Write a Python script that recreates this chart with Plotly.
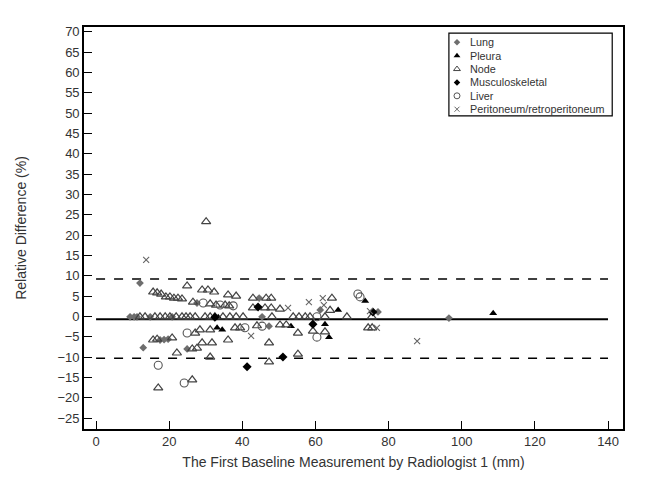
import plotly.graph_objects as go

# ---- data (x = first baseline measurement, mm; y = relative difference, %) ----
lung_x = [12.0, 9.3, 10.4, 11.2, 12.9, 17.5, 18.6, 19.7, 24.9, 27.6, 44.6, 47.3, 61.3, 77.1, 96.5, 14.8, 20.8, 45.4]
lung_y = [8.2, -0.1, -0.1, -0.1, -7.7, -5.8, -5.7, -5.6, -8.0, 3.3, 4.5, -2.4, 1.6, 1.1, -0.4, -0.1, -0.1, -0.1]

pleura_x = [33.1, 34.5, 53.3, 62.6, 63.7, 66.2, 73.6, 108.6, 33.4]
pleura_y = [-2.8, -3.3, -2.4, -1.9, -5.1, 1.6, 3.8, 0.8, -0.2]

node_x = [30.1, 24.9, 15.6, 16.7, 17.8, 19.1, 20.2, 21.3, 22.4, 23.5,
          29.0, 30.6, 32.3, 36.1, 38.3, 26.5, 31.2, 32.8, 35.3, 36.4,
          42.9, 46.5, 47.9, 42.9, 46.2, 47.9, 50.3, 64.5, 64.0,
          12.0, 13.4, 16.1, 17.5, 18.9, 20.2, 21.9, 23.5, 24.6, 25.7, 27.1,
          29.8, 31.2, 32.5, 34.7, 36.6, 38.3, 40.2, 48.1, 53.9, 55.5, 57.2,
          58.5, 62.6, 68.6, 75.4,
          27.1, 28.4, 31.2, 15.6, 16.7, 20.8, 26.3, 27.6, 29.0, 31.7,
          22.1, 31.2, 17.0, 26.3, 38.0, 39.4, 44.0, 50.3, 52.0, 36.1,
          47.3, 55.2, 59.3, 62.6, 47.3, 55.2, 74.4, 75.5]
node_y = [23.3, 7.5, 6.0, 5.8, 5.5, 4.8, 4.8, 4.5, 4.5, 4.3,
          6.5, 6.5, 6.0, 5.3, 5.0, 3.5, 3.1, 2.8, 2.8, 2.6,
          4.5, 4.5, 4.5, 2.1, 2.1, 2.1, 1.8, 4.5, 1.5,
          -0.1, -0.1, -0.1, -0.1, -0.1, -0.1, -0.1, -0.1, -0.1, -0.1, -0.1,
          -0.1, -0.1, -0.1, -0.1, -0.1, -0.1, -0.1, -0.1, -0.1, -0.1, -0.1,
          -0.1, -0.1, -0.1, -0.1,
          -4.1, -3.3, -3.3, -5.8, -5.6, -5.3, -8.0, -7.8, -6.5, -6.5,
          -9.0, -10.0, -17.6, -15.6, -2.8, -2.8, -2.3, -2.1, -2.1, -5.8,
          -6.5, -4.1, -3.6, -3.8, -11.2, -9.3, -2.8, -2.8]

musc_x = [44.3, 32.5, 59.3, 75.7, 51.1, 41.3]
musc_y = [2.3, -0.2, -1.9, 1.1, -10.0, -12.4]

liver_x = [29.3, 37.5, 40.7, 45.4, 24.9, 17.0, 24.1, 60.4, 71.6, 72.2, 60.4, 33.9]
liver_y = [3.3, 2.6, -2.8, -2.4, -4.1, -12.0, -16.4, -5.1, 5.5, 4.8, -0.1, 2.8]

perit_x = [13.7, 52.5, 58.2, 62.3, 62.0, 42.4, 74.9, 76.8, 87.8]
perit_y = [13.9, 2.1, 3.5, 2.8, 4.5, -4.8, 1.3, -2.8, -6.1]

mean_diff = -0.7
upper_loa = 9.2
lower_loa = -10.3
line_x0, line_x1 = 0, 140

x_ticks = [0, 20, 40, 60, 80, 100, 120, 140]
y_ticks = list(range(-25, 75, 5))

legend_names = ["Lung", "Pleura", "Node", "Musculoskeletal", "Liver", "Peritoneum/retroperitoneum"]

font_family = "Liberation Sans, Arial, sans-serif"
txt_color = "#333333"

styles = [
    dict(symbol="diamond", size=6, color="#6e6e6e"),
    dict(symbol="triangle-up", size=7, color="black"),
    dict(symbol="triangle-up-open", size=8, color="#444444", line=dict(width=1.2, color="#444444")),
    dict(symbol="diamond", size=7, color="black"),
    dict(symbol="circle-open", size=8, color="#555555", line=dict(width=1.1, color="#555555")),
    dict(symbol="x-thin-open", size=6, color="#666666", line=dict(width=1.1, color="#666666")),
]
legend_styles = [
    dict(symbol="diamond", size=5, color="#6e6e6e"),
    dict(symbol="triangle-up", size=6, color="black"),
    dict(symbol="triangle-up-open", size=6, color="#444444", line=dict(width=1, color="#444444")),
    dict(symbol="diamond", size=5, color="black"),
    dict(symbol="circle-open", size=6, color="#555555", line=dict(width=1, color="#555555")),
    dict(symbol="x-thin-open", size=5, color="#666666", line=dict(width=1, color="#666666")),
]

fig = go.Figure()

data_x = [lung_x, pleura_x, node_x, musc_x, liver_x, perit_x]
data_y = [lung_y, pleura_y, node_y, musc_y, liver_y, perit_y]
for name, xs, ys, mk in zip(legend_names, data_x, data_y, styles):
    fig.add_trace(go.Scatter(x=xs, y=ys, mode="markers", name=name, marker=mk,
                             showlegend=False))

# reference lines
fig.add_shape(type="line", xref="x", yref="y", x0=line_x0, x1=line_x1, y0=mean_diff, y1=mean_diff,
              line=dict(color="black", width=1.8), layer="below")
for v in (upper_loa, lower_loa):
    fig.add_shape(type="line", xref="x", yref="y", x0=line_x0, x1=line_x1, y0=v, y1=v,
                  line=dict(color="black", width=1.3, dash="dash"), layer="below")

# ---- custom compact legend (overlay axes in 0..1 plot-area units) ----
leg_x0, leg_x1, leg_top, leg_bot = 0.677, 0.980, 0.985, 0.779
row_step = 0.0333
row0 = 0.962
sym_x, text_x = 0.692, 0.712
fig.add_shape(type="rect", xref="paper", yref="paper", x0=leg_x0, x1=leg_x1, y0=leg_bot, y1=leg_top,
              line=dict(color="black", width=1.2), fillcolor="white", layer="below")
for i, (name, mk) in enumerate(zip(legend_names, legend_styles)):
    yy = row0 - i * row_step
    fig.add_trace(go.Scatter(x=[sym_x], y=[yy], xaxis="x2", yaxis="y2", mode="markers",
                             marker=mk, showlegend=False, hoverinfo="skip"))
    fig.add_annotation(x=text_x, y=yy, xref="paper", yref="paper", text=name, showarrow=False,
                       xanchor="left", yanchor="middle",
                       font=dict(size=10.8, color=txt_color, family=font_family))

fig.update_layout(
    width=639, height=481,
    margin=dict(l=76, r=24, t=19, b=60),
    paper_bgcolor="white", plot_bgcolor="white",
    font=dict(family=font_family, size=13, color=txt_color),
    showlegend=False,
    xaxis=dict(range=[-3.3, 144.1], tickvals=x_ticks, ticks="inside", ticklen=8,
               tickcolor="black", showline=True, linecolor="black", linewidth=1.6,
               mirror=True, showgrid=False, zeroline=False,
               title=dict(text="The First Baseline Measurement by Radiologist 1 (mm)",
                          font=dict(size=14, color=txt_color), standoff=9),
               tickfont=dict(size=13, color=txt_color)),
    yaxis=dict(range=[-27.7, 71.2], tickvals=y_ticks, ticks="inside", ticklen=8,
               tickcolor="black", showline=True, linecolor="black", linewidth=1.6,
               mirror=True, showgrid=False, zeroline=False,
               title=dict(text="Relative Difference (%)",
                          font=dict(size=14, color=txt_color), standoff=28),
               tickfont=dict(size=13, color=txt_color)),
    xaxis2=dict(range=[0, 1], overlaying="x", visible=False, fixedrange=True),
    yaxis2=dict(range=[0, 1], overlaying="y", visible=False, fixedrange=True),
)

fig.write_html("out.html")
